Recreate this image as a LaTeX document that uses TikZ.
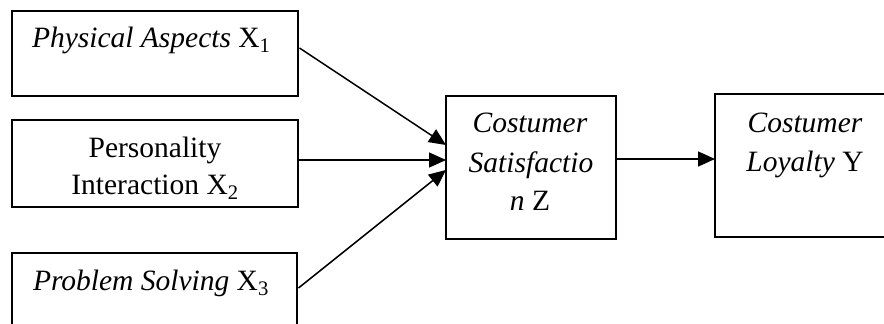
\documentclass[tikz,border=0pt]{standalone}
\usepackage{fontspec}
\setmainfont{Liberation Serif}
\usetikzlibrary{arrows.meta}
\begin{document}
\begin{tikzpicture}[x=1pt,y=-1pt,
  box/.style={draw, line width=1.5pt, inner sep=0pt, outer sep=0pt},
  txt/.style={inner sep=0pt, outer sep=0pt, font=\fontsize{29.5}{38}\selectfont},
  arr/.style={line width=1.5pt, -{Triangle[length=17pt,width=15pt]}}]
\useasboundingbox (0,0) rectangle (884,324);
\clip (0,0) rectangle (884,324);
\fill[white] (0,0) rectangle (884,324);
% boxes
\node[box, minimum width=286pt, minimum height=85pt] (b1) at (155,53.5) {};
\node[box, minimum width=286pt, minimum height=87pt] (b2) at (155,163.5) {};
\node[box, minimum width=285pt, minimum height=86pt] (b3) at (154.5,296) {};
\node[box, minimum width=170pt, minimum height=143pt] (z) at (531,167.5) {};
\node[box, minimum width=180pt, minimum height=143pt] (y) at (805,165.5) {};
% texts
\node[txt, anchor=base west] (t1) at (32,47) {\textit{Physical Aspects} X\textsubscript{1}};
\node[txt, anchor=base] (t2a) at (155,157) {Personality};
\node[txt, anchor=base] (t2b) at (155,194) {Interaction X\textsubscript{2}};
\node[txt, anchor=base west] (t3) at (33,290) {\textit{Problem Solving} X\textsubscript{3}};
\node[txt, anchor=base] (tza) at (530,132) {\textit{Costumer}};
\node[txt, anchor=base] (tzb) at (531,172) {\textit{Satisfactio}};
\node[txt, anchor=base] (tzc) at (530,210) {\textit{n} Z};
\node[txt, anchor=base] (tya) at (805,132) {\textit{Costumer}};
\node[txt, anchor=base] (tyb) at (805,171) {\textit{Loyalty} Y};
% arrows
\draw[arr] ([xshift=1.5pt,yshift=5.5pt]b1.east) -- ([yshift=22.5pt]z.west);
\draw[arr] ([yshift=3.5pt]b2.east) -- ([yshift=7.5pt]z.west);
\draw[arr] ([xshift=1.5pt,yshift=8pt]b3.east) -- ([yshift=-2.5pt]z.west);
\draw[arr] ([yshift=8.5pt]z.east) -- ([yshift=6.5pt]y.west);
\end{tikzpicture}
\end{document}
